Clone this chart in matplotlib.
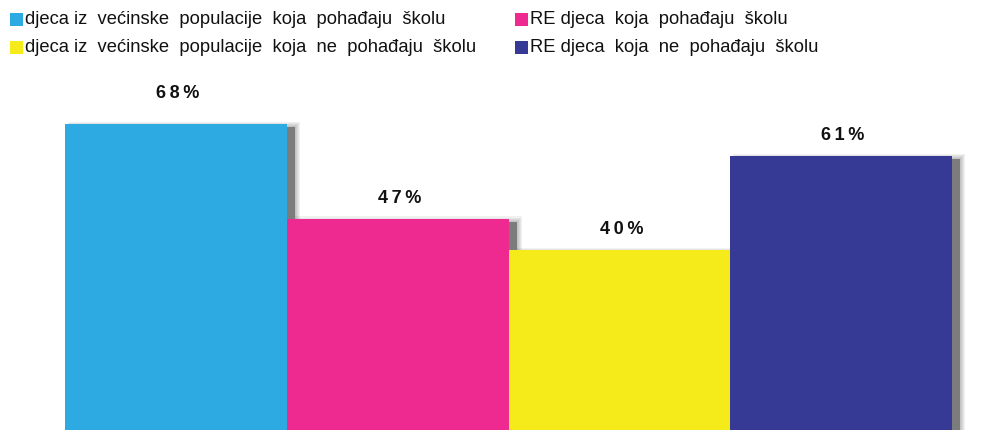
import numpy as np
import matplotlib
matplotlib.use('Agg')
import matplotlib.pyplot as plt
from matplotlib.patches import Rectangle

categories = [
    'djeca iz  većinske  populacije  koja  pohađaju  školu',
    'RE djeca  koja  pohađaju  školu',
    'djeca iz  većinske  populacije  koja  ne  pohađaju  školu',
    'RE djeca  koja  ne  pohađaju  školu',
]
values = [68, 47, 40, 61]
labels = ['68%', '47%', '40%', '61%']
colors = ['#2daae2', '#ee2a90', '#f5ea1a', '#363a94']

W, H = 1001, 430
fig = plt.figure(figsize=(W / 100, H / 100), dpi=100)
fig.patch.set_facecolor('white')
ax = fig.add_axes([65 / W, 0, (952 - 65) / W, 1])
ax.set_facecolor('white')

x = np.arange(len(values))
ax.set_xlim(-0.5, len(values) - 0.5)
ax.set_ylim(0, H / 4.5)

# pixel -> data conversions
px = 1 / ((952 - 65) / len(values))
py = 1 / 4.5

# soft drop shadow (offset right / down, blurred edge)
for i, v in enumerate(values):
    left = x[i] - 0.5 + 8 * px
    top = v - 3 * py
    for e in range(5, 0, -1):
        ax.add_patch(Rectangle((left - e * px, 0), 1 + 2 * e * px, top + e * py,
                               facecolor='#666666', alpha=0.09, edgecolor='none',
                               zorder=1, clip_on=False))
    ax.add_patch(Rectangle((left, 0), 1, top, facecolor='#7c7c7c',
                           edgecolor='none', zorder=1.5, clip_on=False))

ax.bar(x, values, width=1.0, color=colors, edgecolor='none', zorder=3)

label_pad = [30, 20, 20, 20]  # px from bar top to label centre
for i, v in enumerate(values):
    txt = '\u2009'.join(labels[i])
    ax.text(x[i] + 2 * px, v + label_pad[i] * py, txt,
            ha='center', va='center', fontsize=13, fontweight='bold',
            family=['Liberation Sans', 'DejaVu Sans'], color='#111111', zorder=4)

ax.axis('off')

# legend in two columns
pos = [(10, 19), (515, 19), (10, 47), (515, 47)]
for (lx, ly), c, lab in zip(pos, colors, categories):
    fig.add_artist(Rectangle((lx / W, 1 - (ly + 7) / H), 13 / W, 13 / H,
                             transform=fig.transFigure, facecolor=c, edgecolor='none'))
    fig.text((lx + 15) / W, 1 - ly / H, lab, ha='left', va='center',
             fontsize=13.2, family=['Liberation Sans', 'DejaVu Sans'], color='#111111')

fig.savefig('out.png', dpi=100, facecolor='white')
